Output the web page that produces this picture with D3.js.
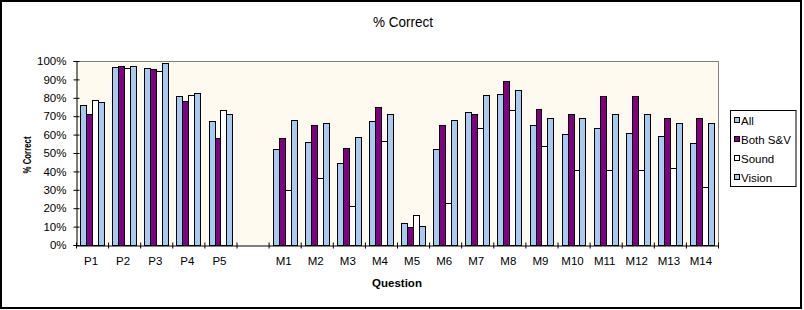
<!DOCTYPE html>
<html>
<head>
<meta charset="utf-8">
<script src="https://cdn.jsdelivr.net/npm/d3@7"></script>
<style>
  html, body { margin: 0; padding: 0; background: #fff; }
  svg { display: block; }
  text { font-family: "Liberation Sans", Arial, sans-serif; fill: #000; }
</style>
</head>
<body>
<svg id="chart" width="804" height="310"></svg>
<script>
const categories = ["P1","P2","P3","P4","P5","","M1","M2","M3","M4","M5","M6","M7","M8","M9","M10","M11","M12","M13","M14"];
const seriesNames = ["All","Both S&V","Sound","Vision"];
const allValues    = [75.9, 96.6, 96.0, 80.8, 67.2, null, 52.0, 55.8, 44.4, 67.2, 11.8, 52.0, 72.1, 81.9, 65.1, 60.2, 63.4, 60.7, 59.1, 55.3];
const bothValues   = [71.0, 97.1, 95.5, 78.1, 58.0, null, 58.0, 65.1, 52.5, 74.8,  9.6, 65.1, 71.0, 89.0, 73.7, 71.0, 80.8, 80.8, 68.9, 68.9];
const soundValues  = [78.6, 96.0, 94.4, 81.3, 73.2, null, 29.7, 36.2, 21.0, 56.3, 16.1, 22.7, 63.4, 73.2, 53.6, 40.6, 40.6, 40.6, 41.7, 31.4];
const visionValues = [77.5, 97.1, 98.7, 82.4, 71.0, null, 67.8, 66.1, 58.5, 71.0, 10.1, 67.8, 81.3, 84.1, 68.9, 68.9, 71.0, 71.0, 66.1, 66.1];
const yTicks = [0,10,20,30,40,50,60,70,80,90,100];
const colors = ["#a6caf0", "#800080", "#ffffff", "#a6caf0"];

const seriesValues = [allValues, bothValues, soundValues, visionValues];
const svg = d3.select("#chart");

// outer border
svg.append("rect").attr("x",1).attr("y",1).attr("width",800).attr("height",307)
  .attr("fill","#fff").attr("stroke","#000").attr("stroke-width",2);

const L = 76, R = 718, T = 61, B = 245;
const x0 = d3.scaleBand().domain(d3.range(categories.length)).range([L, R]).padding(0);
const bw = x0.bandwidth();
const groupW = bw * 0.74;
const x1 = d3.scaleBand().domain(d3.range(seriesNames.length)).range([(bw-groupW)/2, (bw+groupW)/2]).padding(0);
const y = d3.scaleLinear().domain([0,100]).range([B, T]);

// plot background
svg.append("rect").attr("x",L).attr("y",T).attr("width",R-L).attr("height",B-T).attr("fill","#fffaf0");
svg.append("line").attr("x1",L).attr("x2",R).attr("y1",T+0.5).attr("y2",T+0.5).attr("stroke","#808080");
svg.append("line").attr("x1",R+0.5).attr("x2",R+0.5).attr("y1",T).attr("y2",B).attr("stroke","#808080");

// bars
const data = [];
categories.forEach((c,i) => {
  seriesValues.forEach((vals,s) => {
    if (vals[i] != null) data.push({i, s, v: vals[i]});
  });
});
svg.append("g").selectAll("rect").data(data).join("rect")
  .attr("x", d => Math.round(x0(d.i) + x1(d.s)) + 0.5)
  .attr("y", d => Math.round(y(d.v)) + 0.5)
  .attr("width", d => Math.round(x0(d.i) + x1(d.s) + x1.bandwidth()) - Math.round(x0(d.i) + x1(d.s)))
  .attr("height", d => Math.round(B) - Math.round(y(d.v)))
  .attr("fill", d => colors[d.s])
  .attr("stroke", "#000").attr("stroke-width", 1);

// y axis
const yAxis = d3.axisLeft(y).tickValues(yTicks).tickFormat(d => d + "%").tickSize(3).tickPadding(7);
const gy = svg.append("g").attr("transform", `translate(${L+0.5},0)`).call(yAxis);
gy.select(".domain").attr("stroke","#000");
gy.selectAll(".tick line").attr("x1", 3).attr("stroke","#000");
gy.selectAll(".tick text").attr("font-size","11.5px").attr("font-family","Liberation Sans, Arial, sans-serif");

// x axis: boundary ticks
const xb = d3.scaleLinear().domain([0, categories.length]).range([L, R]);
const xAxisTicks = d3.axisBottom(xb).tickValues(d3.range(categories.length+1)).tickFormat("").tickSize(3).tickSizeOuter(0);
const gx = svg.append("g").attr("transform", `translate(0,${B+0.5})`).call(xAxisTicks);
gx.select(".domain").attr("stroke","#000");
gx.selectAll(".tick line").attr("y1", -3).attr("stroke","#000");

// x labels
const xLabelAxis = d3.axisBottom(x0).tickFormat(i => categories[i]).tickSize(0).tickPadding(12);
const gxl = svg.append("g").attr("transform", `translate(-1,${B})`).call(xLabelAxis);
gxl.select(".domain").remove();
gxl.selectAll(".tick text").attr("font-size","11.5px").attr("font-family","Liberation Sans, Arial, sans-serif");

// title
svg.append("text").attr("x", 403).attr("y", 27).attr("text-anchor","middle")
  .attr("font-size","14px").attr("textLength", 60).attr("lengthAdjust","spacingAndGlyphs")
  .text("% Correct");

// axis titles
svg.append("text").attr("x", 397).attr("y", 287).attr("text-anchor","middle")
  .attr("font-size","11.5px").attr("font-weight","bold").text("Question");
svg.append("text").attr("transform","translate(31,155) rotate(-90)").attr("text-anchor","middle")
  .attr("font-size","11px").attr("font-weight","bold").attr("textLength",37).attr("lengthAdjust","spacingAndGlyphs")
  .text("% Correct");

// legend
const lg = svg.append("g");
lg.append("rect").attr("x",730.5).attr("y",110.5).attr("width",65.5).attr("height",76).attr("fill","#fff").attr("stroke","#000");
const rowY = d3.scalePoint().domain(seriesNames).range([120.5, 177.5]);
seriesNames.forEach((n,s) => {
  lg.append("rect").attr("x",734.5).attr("y",rowY(n)-3).attr("width",5).attr("height",5)
    .attr("fill",colors[s]).attr("stroke","#000");
  lg.append("text").attr("x",741).attr("y",rowY(n)+4).attr("font-size","11.5px").text(n);
});
</script>
</body>
</html>
